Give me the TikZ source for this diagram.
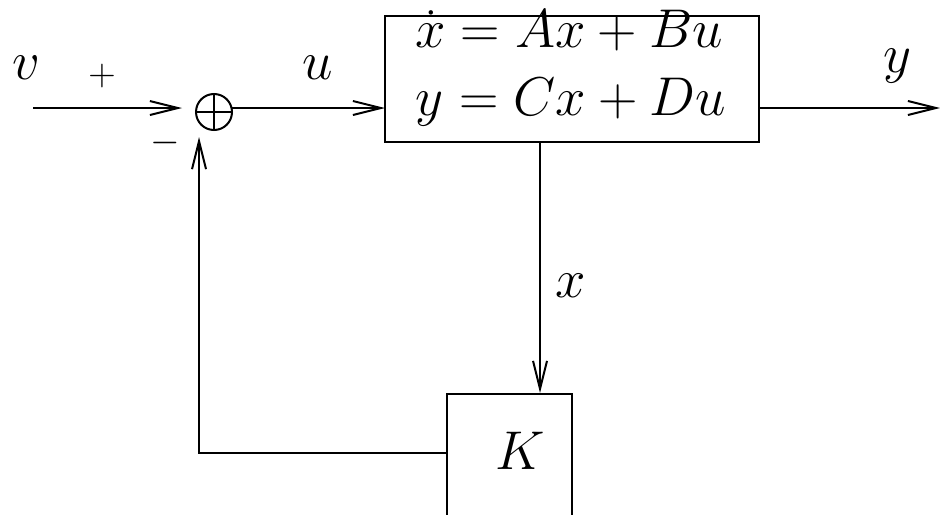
\RequirePackage{fix-cm}
\documentclass[tikz,border=0pt]{standalone}
\usetikzlibrary{arrows.meta}
\begin{document}
\begin{tikzpicture}[x=0.5pt,y=-0.5pt,
  line width=1pt,
  arr/.style={-{Straight Barb[length=14pt,width=7pt,line width=1pt]}},
  big/.style={font=\fontsize{27.3}{34}\selectfont, inner sep=0pt},
  small/.style={font=\fontsize{19}{22}\selectfont, inner sep=0pt},
  blockbox/.style={draw, inner sep=0pt}]
\clip (0,0) rectangle (940,514);
% system block
\node[blockbox, minimum width=187pt, minimum height=63pt] (sys) at (572,79) {};
\node[big, anchor=base] (eq1) at (569,47) {$\dot{x} = Ax + Bu$};
\node[big, anchor=base] (eq2) at (571,115) {$y = Cx + Du$};
% summing junction
\node[draw, circle, minimum size=18pt, inner sep=0pt] (sum) at (214,112) {};
\draw (sum.north) -- (sum.south) (sum.west) -- (sum.east);
% K block (clipped at the bottom)
\node[blockbox, minimum width=62.5pt, minimum height=80pt] (Kbox) at (509.5,474) {};
\node[big] (Klab) at (520,451) {$K$};
% coordinates
\coordinate (vin) at (33,108);
\coordinate (sumin) at (182,108);
\coordinate (sumout) at (232,108);
\coordinate (sysin) at (385,108);
\coordinate (sysout) at (759,108);
\coordinate (yout) at (940,108);
\coordinate (xcol) at (540,0);
\coordinate (fbstart) at (447,453);
\coordinate (fbcorner) at (199,453);
\coordinate (fbtip) at (199,137);
% connectors
\draw[arr] (vin) -- (sumin);
\draw[arr] (sumout) -- (sysin);
\draw[arr] (sysout) -- (yout);
\draw[arr] (sys.south -| xcol) -- (Kbox.north -| xcol);
\draw[arr] (fbstart) -- (fbcorner) -- (fbtip);
% labels
\node[big] (vlab) at (26,68) {$v$};
\node[small] (plus) at (102,76) {$+$};
\node[small] (minus) at (165,143) {$-$};
\node[big] (ulab) at (318,68) {$u$};
\node[big] (ylab) at (897,66) {$y$};
\node[big] (xlab) at (571,286) {$x$};
\end{tikzpicture}
\end{document}
